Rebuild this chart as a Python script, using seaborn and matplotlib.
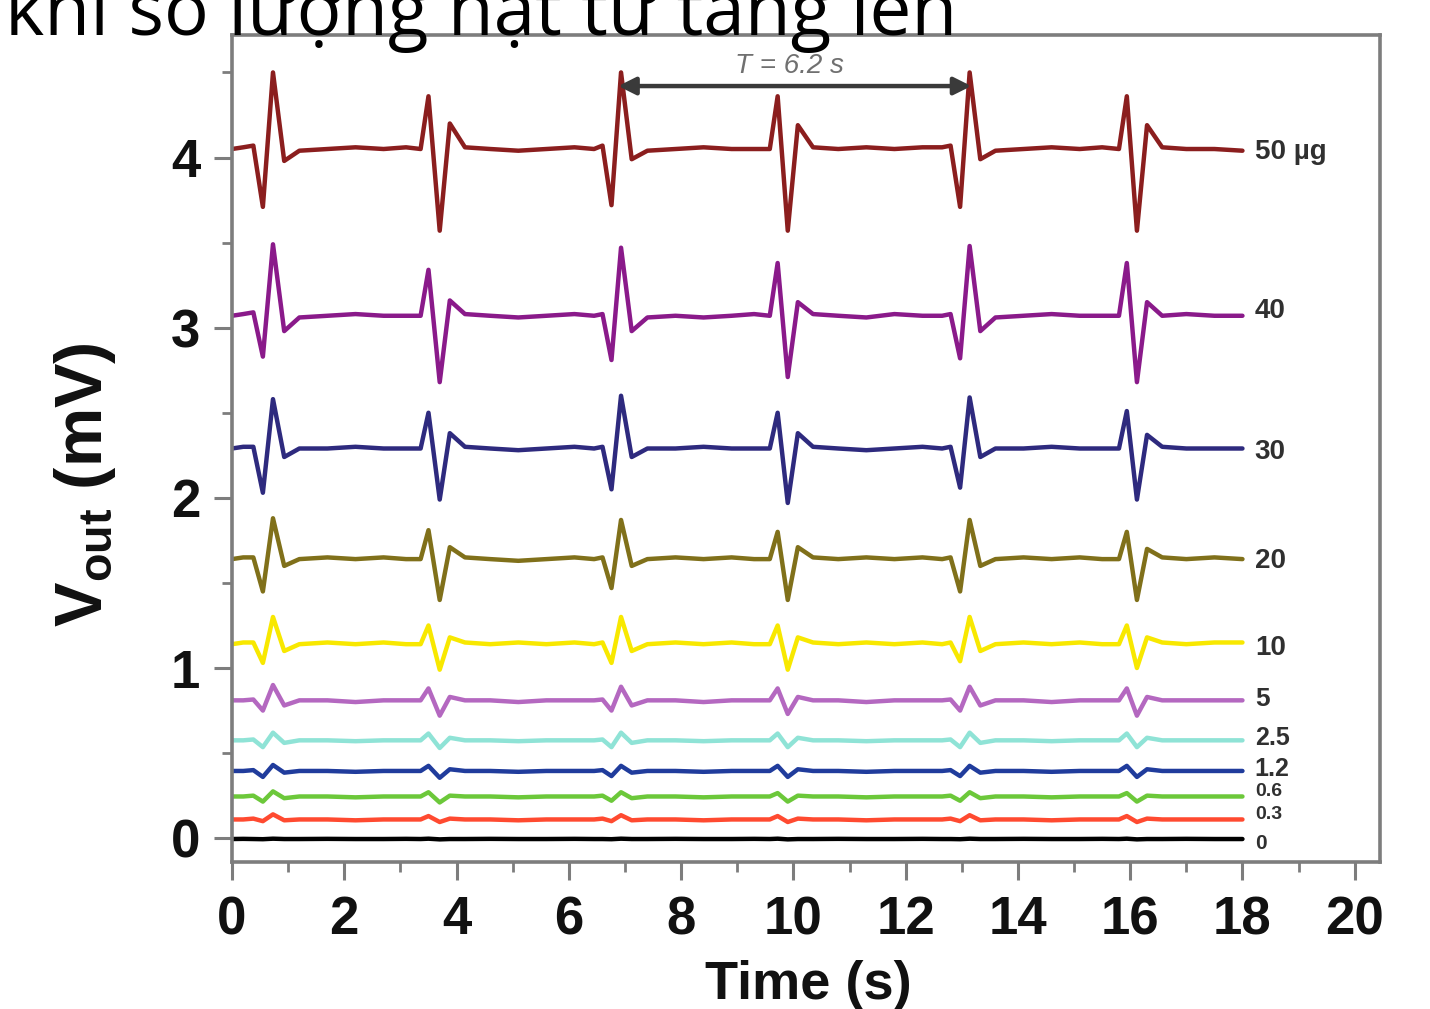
import matplotlib
matplotlib.use("Agg")
import matplotlib.pyplot as plt
from matplotlib.ticker import MultipleLocator
import pandas as pd
import seaborn as sns

# ---------------- data ----------------
time_s = [0.00, 0.20,
          0.38, 0.55, 0.73, 0.93, 1.20,
          1.70, 2.20, 2.70, 3.10,
          3.36, 3.50, 3.70, 3.88, 4.15,
          4.60, 5.10, 5.60, 6.10, 6.45,
          6.60, 6.76, 6.93, 7.12, 7.40,
          7.90, 8.40, 8.90, 9.30,
          9.58, 9.72, 9.90, 10.08, 10.35,
          10.80, 11.30, 11.80, 12.30, 12.65,
          12.80, 12.97, 13.14, 13.33, 13.60,
          14.10, 14.60, 15.10, 15.50,
          15.80, 15.94, 16.12, 16.30, 16.57,
          17.00, 17.50, 18.00]

v_50 = [4.05, 4.06,
        4.07, 3.71, 4.50, 3.98, 4.04,
        4.05, 4.06, 4.05, 4.06,
        4.05, 4.36, 3.57, 4.20, 4.06,
        4.05, 4.04, 4.05, 4.06, 4.05,
        4.07, 3.72, 4.50, 3.99, 4.04,
        4.05, 4.06, 4.05, 4.05,
        4.05, 4.36, 3.57, 4.19, 4.06,
        4.05, 4.06, 4.05, 4.06, 4.06,
        4.07, 3.71, 4.50, 3.99, 4.04,
        4.05, 4.06, 4.05, 4.06,
        4.05, 4.36, 3.57, 4.19, 4.06,
        4.05, 4.05, 4.04]

v_40 = [3.07, 3.08,
        3.09, 2.83, 3.49, 2.98, 3.06,
        3.07, 3.08, 3.07, 3.07,
        3.07, 3.34, 2.68, 3.16, 3.08,
        3.07, 3.06, 3.07, 3.08, 3.07,
        3.08, 2.81, 3.47, 2.98, 3.06,
        3.07, 3.06, 3.07, 3.08,
        3.07, 3.38, 2.71, 3.15, 3.08,
        3.07, 3.06, 3.08, 3.07, 3.07,
        3.08, 2.82, 3.48, 2.98, 3.06,
        3.07, 3.08, 3.07, 3.07,
        3.07, 3.38, 2.68, 3.15, 3.07,
        3.08, 3.07, 3.07]

v_30 = [2.29, 2.30,
        2.30, 2.03, 2.58, 2.24, 2.29,
        2.29, 2.30, 2.29, 2.29,
        2.29, 2.50, 1.99, 2.38, 2.30,
        2.29, 2.28, 2.29, 2.30, 2.29,
        2.30, 2.05, 2.60, 2.24, 2.29,
        2.29, 2.30, 2.29, 2.29,
        2.29, 2.50, 1.97, 2.38, 2.30,
        2.29, 2.28, 2.29, 2.30, 2.29,
        2.30, 2.06, 2.59, 2.24, 2.29,
        2.29, 2.30, 2.29, 2.29,
        2.29, 2.51, 1.99, 2.37, 2.30,
        2.29, 2.29, 2.29]

v_20 = [1.64, 1.65,
        1.65, 1.45, 1.88, 1.60, 1.64,
        1.65, 1.64, 1.65, 1.64,
        1.64, 1.81, 1.40, 1.71, 1.65,
        1.64, 1.63, 1.64, 1.65, 1.64,
        1.65, 1.47, 1.87, 1.60, 1.64,
        1.65, 1.64, 1.65, 1.64,
        1.64, 1.80, 1.40, 1.71, 1.65,
        1.64, 1.65, 1.64, 1.65, 1.64,
        1.65, 1.45, 1.87, 1.60, 1.64,
        1.65, 1.64, 1.65, 1.64,
        1.64, 1.80, 1.40, 1.70, 1.65,
        1.64, 1.65, 1.64]

v_10 = [1.14, 1.15,
        1.15, 1.03, 1.30, 1.10, 1.14,
        1.15, 1.14, 1.15, 1.14,
        1.14, 1.25, 0.99, 1.18, 1.15,
        1.14, 1.15, 1.14, 1.15, 1.14,
        1.15, 1.03, 1.30, 1.10, 1.14,
        1.15, 1.14, 1.15, 1.14,
        1.14, 1.25, 0.99, 1.18, 1.15,
        1.14, 1.15, 1.14, 1.15, 1.14,
        1.15, 1.04, 1.30, 1.10, 1.14,
        1.15, 1.14, 1.15, 1.14,
        1.14, 1.25, 1.00, 1.18, 1.15,
        1.14, 1.15, 1.15]

v_5 = [0.81, 0.81,
       0.815, 0.75, 0.90, 0.78, 0.81,
       0.81, 0.80, 0.81, 0.81,
       0.81, 0.88, 0.72, 0.83, 0.81,
       0.81, 0.80, 0.81, 0.81, 0.81,
       0.815, 0.75, 0.89, 0.78, 0.81,
       0.81, 0.80, 0.81, 0.81,
       0.81, 0.88, 0.73, 0.83, 0.81,
       0.81, 0.80, 0.81, 0.81, 0.81,
       0.815, 0.75, 0.89, 0.78, 0.81,
       0.81, 0.80, 0.81, 0.81,
       0.81, 0.88, 0.72, 0.83, 0.81,
       0.81, 0.81, 0.81]

v_2_5 = [0.575, 0.575,
         0.58, 0.535, 0.62, 0.56, 0.575,
         0.575, 0.57, 0.575, 0.575,
         0.575, 0.615, 0.53, 0.59, 0.575,
         0.575, 0.57, 0.575, 0.575, 0.575,
         0.58, 0.535, 0.62, 0.56, 0.575,
         0.575, 0.57, 0.575, 0.575,
         0.575, 0.615, 0.535, 0.59, 0.575,
         0.575, 0.57, 0.575, 0.575, 0.575,
         0.58, 0.535, 0.62, 0.56, 0.575,
         0.575, 0.57, 0.575, 0.575,
         0.575, 0.615, 0.535, 0.59, 0.575,
         0.575, 0.575, 0.575]

v_1_2 = [0.395, 0.395,
         0.40, 0.36, 0.43, 0.385, 0.395,
         0.395, 0.39, 0.395, 0.395,
         0.395, 0.425, 0.355, 0.405, 0.395,
         0.395, 0.39, 0.395, 0.395, 0.395,
         0.40, 0.365, 0.425, 0.385, 0.395,
         0.395, 0.39, 0.395, 0.395,
         0.395, 0.425, 0.36, 0.405, 0.395,
         0.395, 0.39, 0.395, 0.395, 0.395,
         0.40, 0.365, 0.425, 0.385, 0.395,
         0.395, 0.39, 0.395, 0.395,
         0.395, 0.425, 0.36, 0.405, 0.395,
         0.395, 0.395, 0.395]

v_0_6 = [0.245, 0.245,
         0.25, 0.215, 0.275, 0.235, 0.245,
         0.245, 0.24, 0.245, 0.245,
         0.245, 0.27, 0.21, 0.25, 0.245,
         0.245, 0.24, 0.245, 0.245, 0.245,
         0.25, 0.22, 0.27, 0.235, 0.245,
         0.245, 0.24, 0.245, 0.245,
         0.245, 0.265, 0.215, 0.25, 0.245,
         0.245, 0.24, 0.245, 0.245, 0.245,
         0.25, 0.22, 0.27, 0.235, 0.245,
         0.245, 0.24, 0.245, 0.245,
         0.245, 0.265, 0.215, 0.25, 0.245,
         0.245, 0.245, 0.245]

v_0_3 = [0.11, 0.11,
         0.115, 0.10, 0.14, 0.105, 0.11,
         0.11, 0.105, 0.11, 0.11,
         0.11, 0.13, 0.095, 0.115, 0.11,
         0.11, 0.105, 0.11, 0.11, 0.11,
         0.115, 0.10, 0.135, 0.105, 0.11,
         0.11, 0.105, 0.11, 0.11,
         0.11, 0.13, 0.095, 0.115, 0.11,
         0.11, 0.105, 0.11, 0.11, 0.11,
         0.115, 0.10, 0.135, 0.105, 0.11,
         0.11, 0.105, 0.11, 0.11,
         0.11, 0.13, 0.095, 0.115, 0.11,
         0.11, 0.11, 0.11]

v_0 = [-0.005, -0.004,
       -0.005, -0.006, -0.003, -0.005, -0.005,
       -0.004, -0.005, -0.005, -0.004,
       -0.005, -0.003, -0.007, -0.005, -0.005,
       -0.004, -0.005, -0.005, -0.004, -0.005,
       -0.005, -0.006, -0.003, -0.005, -0.005,
       -0.004, -0.005, -0.005, -0.004,
       -0.005, -0.003, -0.007, -0.005, -0.005,
       -0.004, -0.005, -0.005, -0.004, -0.005,
       -0.005, -0.006, -0.003, -0.005, -0.005,
       -0.004, -0.005, -0.005, -0.004,
       -0.005, -0.003, -0.007, -0.005, -0.005,
       -0.004, -0.005, -0.005]

series_labels = ["50 µg", "40", "30", "20", "10", "5", "2.5", "1.2", "0.6", "0.3", "0"]
series_values = [v_50, v_40, v_30, v_20, v_10, v_5, v_2_5, v_1_2, v_0_6, v_0_3, v_0]
series_colors = ["#8B1E1E", "#8A1A8A", "#2E2A7E", "#80701A", "#F8E800", "#B468C0",
                 "#8FE3D6", "#203C9C", "#6CC83A", "#FF4A30", "#000000"]
label_y = [4.03, 3.10, 2.27, 1.63, 1.12, 0.82, 0.59, 0.405, 0.272, 0.14, -0.03]
label_sizes = [20, 20, 20, 20, 20, 19, 18, 18, 14, 14, 15]
label_x = 18.22

x_ticks = [0, 2, 4, 6, 8, 10, 12, 14, 16, 18, 20]
y_ticks = [0, 1, 2, 3, 4]
period_start, period_end, period_y = 6.88, 13.17, 4.42
period_text = "T = 6.2 s"
title_text = "khi số lượng hạt từ tăng lên"

# ---------------- style ----------------
sns.set_theme(style="ticks")
plt.rcParams["font.family"] = ["Liberation Sans", "DejaVu Sans"]
plt.rcParams["mathtext.fontset"] = "custom"
plt.rcParams["mathtext.rm"] = "Liberation Sans"
plt.rcParams["mathtext.bf"] = "Liberation Sans:bold"
plt.rcParams["mathtext.it"] = "Liberation Sans:italic"

W, H = 1430, 1009
fig = plt.figure(figsize=(W / 100, H / 100), dpi=100)
fig.patch.set_facecolor("white")
ax = fig.add_axes([232 / W, 1 - 862 / H, (1380 - 232) / W, (862 - 35) / H])
ax.set_facecolor("white")

frames = []
for lab, vals in zip(series_labels, series_values):
    frames.append(pd.DataFrame({"time": time_s, "vout": vals, "series": lab}))
df = pd.concat(frames, ignore_index=True)

sns.lineplot(data=df, x="time", y="vout", hue="series", hue_order=series_labels,
             palette=series_colors, estimator=None, sort=False, linewidth=3.2,
             legend=False, ax=ax)

ax.set_xlim(0, 20.45)
ax.set_ylim(-0.14, 4.72)
ax.set_xticks(x_ticks)
ax.set_yticks(y_ticks)
ax.xaxis.set_minor_locator(MultipleLocator(1))
ax.yaxis.set_minor_locator(MultipleLocator(0.5))

spine_col = "#7d7d7d"
for s in ax.spines.values():
    s.set_visible(True)
    s.set_color(spine_col)
    s.set_linewidth(2.6)

ax.tick_params(axis="both", which="major", direction="out", length=13, width=2.2,
               color=spine_col, labelsize=38, labelcolor="#111111")
ax.tick_params(axis="both", which="minor", direction="out", length=7, width=2.0,
               color=spine_col)
ax.tick_params(axis="x", which="major", pad=11)
ax.tick_params(axis="y", which="major", pad=10)
ax.tick_params(top=False, right=False, which="both")
for t in ax.get_xticklabels() + ax.get_yticklabels():
    t.set_fontweight("bold")

ax.set_xlabel("Time (s)", fontsize=39, fontweight="bold", color="#111111",
              va="center")
ax.xaxis.set_label_coords((808 - 232) / (1380 - 232), (862 - 985) / (862 - 35))
ax.set_ylabel(r"$\mathbf{V}_{\mathbf{out}}$ (mV)", fontsize=48, fontweight="bold",
              color="#111111", va="center")
ax.yaxis.set_label_coords((85 - 232) / (1380 - 232), (862 - 485) / (862 - 35))

for lab, y, fs in zip(series_labels, label_y, label_sizes):
    ax.text(label_x, y, lab, ha="left", va="center", fontsize=fs,
            fontweight="bold", color="#303030")

ax.annotate("", xy=(period_start, period_y), xytext=(period_end, period_y),
            arrowprops=dict(arrowstyle="<|-|>", color="#3a3a3a", lw=3.2,
                            mutation_scale=26, shrinkA=0, shrinkB=0))
ax.text((period_start + period_end) / 2 - 0.1, 4.535, period_text, ha="center",
        va="center", fontsize=20, style="italic", color="#707070")

# title text (partly cut off at the top edge, as in the source slide)
title = fig.text(5 / W, 1 - 35 / H, title_text, ha="left", va="baseline",
                 fontsize=40, color="black", family=["Open Sans", "DejaVu Sans"])
fig.canvas.draw()
bb = title.get_window_extent()
title.set_fontsize(40 * 950 / bb.width)

fig.savefig("out.png", dpi=100)
